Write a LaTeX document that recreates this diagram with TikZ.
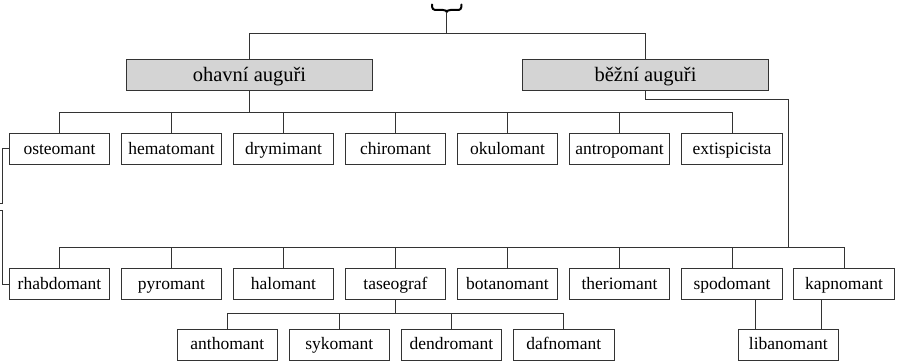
\documentclass[tikz,border=0pt]{standalone}
\usepackage{fontspec}
\setmainfont{Liberation Serif}
\usetikzlibrary{calc}
\tikzset{
  leaf/.style={draw=black!80, line width=0.9pt, fill=white, minimum width=100.5pt, minimum height=31pt, inner sep=0pt, text height=14.9pt, text depth=4.5pt, font=\fontsize{17.5}{20}\selectfont},
  group/.style={draw=black!80, line width=0.9pt, fill=black!17, minimum width=245.6pt, minimum height=31pt, inner sep=0pt, text height=18pt, text depth=5pt, font=\fontsize{20.5}{24}\selectfont},
  conn/.style={draw=black!80, line width=0.9pt},
}
\begin{document}
\begin{tikzpicture}[x=1pt,y=-1pt]
\useasboundingbox (0,0) rectangle (898,361);
% top level
\node[group] (oh) at (249.5,74.8) {ohavní auguři};
\node[group] (bz) at (645.5,74.8) {běžní auguři};
% row 1
\node[leaf] (os) at (59.5,148.8) {osteomant};
\node[leaf] (he) at (171.5,148.8) {hematomant};
\node[leaf] (dr) at (283.5,148.8) {drymimant};
\node[leaf] (ch) at (395.5,148.8) {chiromant};
\node[leaf] (ok) at (507.5,148.8) {okulomant};
\node[leaf] (an) at (619.5,148.8) {antropomant};
\node[leaf] (ex) at (732,148.8) {extispicista};
% row 2
\node[leaf] (rh) at (59.5,284.2) {rhabdomant};
\node[leaf] (py) at (171.5,284.2) {pyromant};
\node[leaf] (ha) at (283.5,284.2) {halomant};
\node[leaf] (ta) at (395.5,284.2) {taseograf};
\node[leaf] (bo) at (507.5,284.2) {botanomant};
\node[leaf] (th) at (619.5,284.2) {theriomant};
\node[leaf] (sp) at (732,284.2) {spodomant};
\node[leaf] (ka) at (844,284.2) {kapnomant};
% row 3
\node[leaf] (at) at (227.3,344.5) {anthomant};
\node[leaf] (sy) at (339.3,344.5) {sykomant};
\node[leaf] (de) at (451.5,344.5) {dendromant};
\node[leaf] (da) at (563.8,344.5) {dafnomant};
\node[leaf] (li) at (788.3,344.5) {libanomant};
% brace
\coordinate (br) at (446.7,12);
\draw[line width=2pt, line cap=round, line join=round]
  (432,4.5) .. controls (432,9) and (433,10) .. (437,10) -- (443,10)
  .. controls (445.5,10) and (446.7,11) .. (br)
  .. controls (446.7,11) and (448,10) .. (450.5,10) -- (457,10)
  .. controls (460.5,10) and (461.5,9) .. (461.5,4.5);
\coordinate (tb) at (446.7,33.3);
\draw[conn] (br) -- (tb);
\draw[conn] (oh.north) -- (oh.north |- tb) -| (bz.north);
% row 1 connectors
\coordinate (b1) at (0,112);
\draw[conn] (oh.south) -- (oh.south |- b1);
\draw[conn] (os.north) -- (os.north |- b1) -| (ex.north);
\foreach \n in {he,dr,ch,ok,an} \draw[conn] (\n.north) -- (\n.north |- b1);
% right branch
\coordinate (j) at ($(sp.north)!.5!(ka.north)+(0,-21.3)$);
\draw[conn] (bz.south) -- ++(0,8.7) -| (j);
% row 2 connectors
\draw[conn] (rh.north) -- (rh.north |- j) -| (ka.north);
\foreach \n in {py,ha,ta,bo,th,sp} \draw[conn] (\n.north) -- (\n.north |- j);
% row 3 connectors
\coordinate (b3) at (0,313.3);
\draw[conn] (ta.south) -- (ta.south |- b3);
\draw[conn] (at.north) -- (at.north |- b3) -| (da.north);
\foreach \n in {sy,de} \draw[conn] (\n.north) -- (\n.north |- b3);
% libanomant
\coordinate (l1) at ($(li.north)+(-33,0)$);
\coordinate (l2) at ($(li.north)+(33,0)$);
\draw[conn] (l1) -- (l1 |- sp.south);
\draw[conn] (l2) -- (l2 |- ka.south);
% left bracket
\draw[conn] (os.west) -- ++(-6.5,0) -- ++(0,55) -- ++(-3,0);
\draw[conn] (rh.west) -- ++(-6,0) -- ++(0,-74) -- ++(-3,0);
\end{tikzpicture}
\end{document}
